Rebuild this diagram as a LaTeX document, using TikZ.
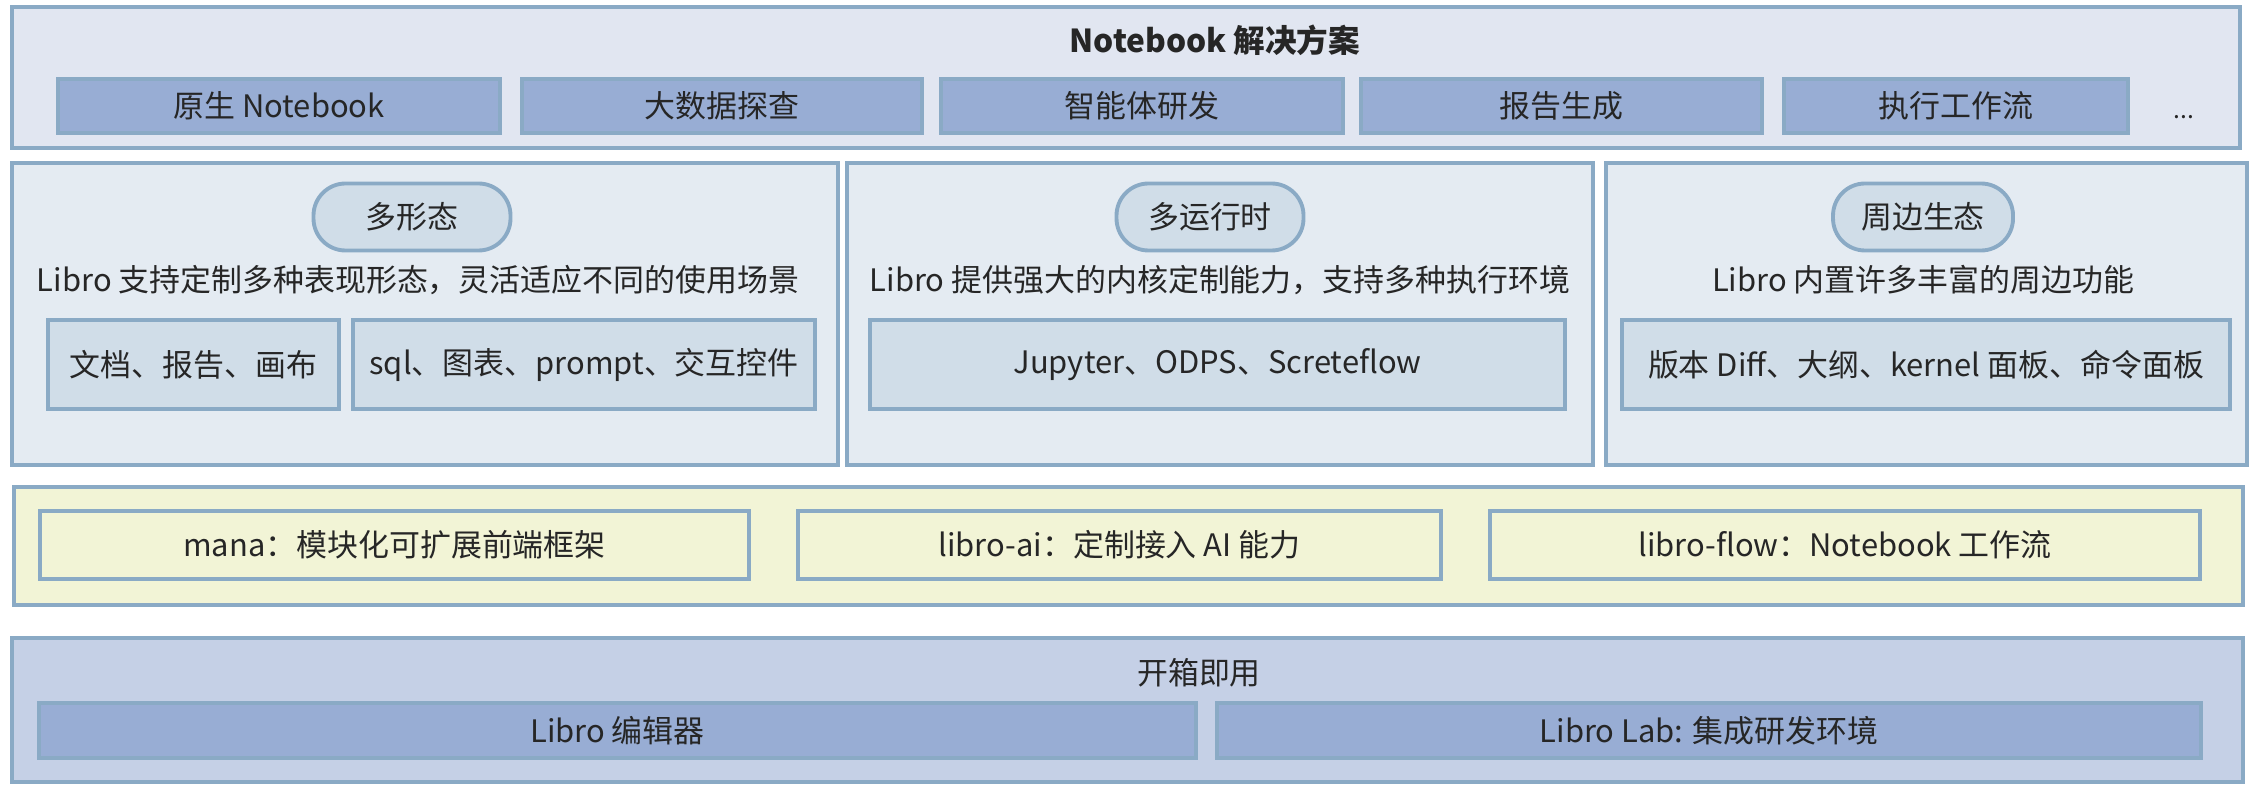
\documentclass[tikz,border=0pt]{standalone}
\usepackage{fontspec}
\setmainfont{Noto Sans CJK SC}

\definecolor{edge}{HTML}{8AAAC5}
\definecolor{topfill}{HTML}{E1E6F1}
\definecolor{itemfill}{HTML}{98ADD4}
\definecolor{panelfill}{HTML}{E4EBF2}
\definecolor{subfill}{HTML}{D0DDE8}
\definecolor{yellowfill}{HTML}{F2F4D6}
\definecolor{basefill}{HTML}{C5D0E6}

\begin{document}
\begin{tikzpicture}[x=0.1mm, y=-0.1mm,
    every node/.style={font=\fontsize{8.8}{10}\selectfont, text=black!85},
    band/.style={draw=edge, line width=1.4pt, inner sep=0pt},
    item/.style={draw=edge, line width=1.1pt, inner sep=0pt},
    pill/.style={draw=edge, line width=1.1pt, fill=subfill, rounded corners=3.2mm, inner sep=0pt}]
    \useasboundingbox (0,0) rectangle (2259,788);
    % Top band
    \node[band, fill=topfill, minimum width=222.8mm, minimum height=14.1mm] (top) at (1126,77.5) {};
    \node[font=\bfseries\fontsize{9}{10}\selectfont] (toptitle) at (1215,40) {Notebook 解决方案};
    \foreach \cx/\w/\txt/\nm in {279/44.2/原生 Notebook/native, 722/40/大数据探查/bigdata,
        1142/40.2/智能体研发/agent, 1561.5/40.1/报告生成/report, 1956/34.4/执行工作流/runflow} {
        \node[item, fill=itemfill, minimum width=\w mm, minimum height=5.4mm] (\nm) at (\cx,106) {\txt};
    }
    \node[font=\fontsize{7}{8}\selectfont] (more) at (2184,117) {...};
    % Middle panels
    \foreach \cx/\w/\nm in {425/82.6/multiform, 1220/74.6/multirun, 1926.5/64.1/ecosys} {
        \node[band, line width=1.1pt, fill=panelfill, minimum width=\w mm, minimum height=30.2mm] (\nm) at (\cx,314) {};
    }
    \node[pill, minimum width=19.7mm, minimum height=6.7mm] (formpill) at (412,217) {多形态};
    \node[pill, minimum width=18.7mm, minimum height=6.7mm] (runpill) at (1210,217) {多运行时};
    \node[pill, minimum width=18mm, minimum height=6.7mm] (ecopill) at (1923,217) {周边生态};
    \node (formdesc) at (418,280) {Libro 支持定制多种表现形态，灵活适应不同的使用场景};
    \node (rundesc) at (1220,280) {Libro 提供强大的内核定制能力，支持多种执行环境};
    \node (ecodesc) at (1923,280) {Libro 内置许多丰富的周边功能};
    \node[item, fill=subfill, minimum width=29.1mm, minimum height=8.9mm] (docs) at (193.5,364.5) {文档、报告、画布};
    \node[item, fill=subfill, minimum width=46.2mm, minimum height=8.9mm] (widgets) at (584,364.5) {sql、图表、prompt、交互控件};
    \node[item, fill=subfill, minimum width=69.5mm, minimum height=8.9mm] (kernels) at (1217.5,364.5) {Jupyter、ODPS、Screteflow};
    \node[item, fill=subfill, minimum width=60.8mm, minimum height=8.9mm] (tools) at (1926,364.5) {版本 Diff、大纲、kernel 面板、命令面板};
    % Framework band
    \node[band, fill=yellowfill, minimum width=222.9mm, minimum height=11.8mm] (frame) at (1128.5,546) {};
    \foreach \cx/\w/\txt/\nm in {394.5/70.9/mana：模块化可扩展前端框架/mana, 1119.5/64.3/libro-ai：定制接入 AI 能力/libroai,
        1845/71/libro-flow：Notebook 工作流/libroflow} {
        \node[item, fill=yellowfill, minimum width=\w mm, minimum height=6.8mm] (\nm) at (\cx,545) {\txt};
    }
    % Out of the box
    \node[band, fill=basefill, minimum width=223.1mm, minimum height=14.4mm] (base) at (1127.5,710) {};
    \node (basetitle) at (1199,673) {开箱即用};
    \node[item, fill=itemfill, minimum width=115.7mm, minimum height=5.5mm] (editor) at (617.5,730.5) {Libro 编辑器};
    \node[item, fill=itemfill, minimum width=98.4mm, minimum height=5.5mm] (lab) at (1709,730.5) {Libro Lab: 集成研发环境};
\end{tikzpicture}
\end{document}
